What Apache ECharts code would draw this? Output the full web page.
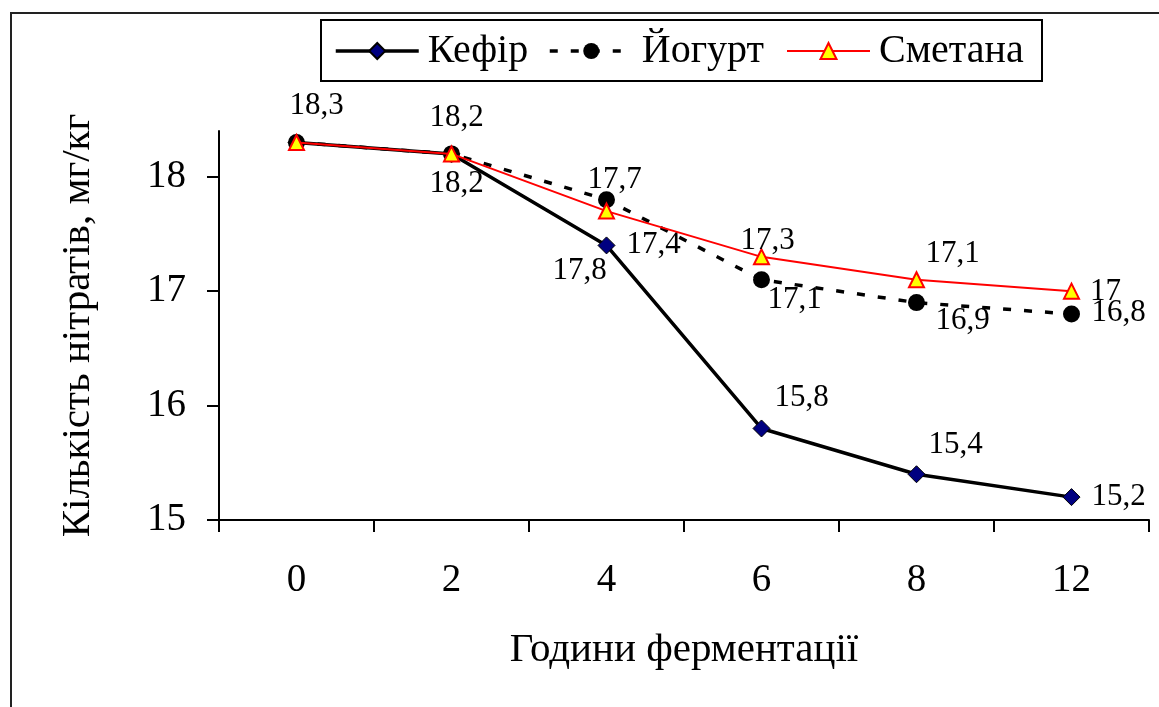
<!DOCTYPE html>
<html>
<head>
<meta charset="utf-8">
<script src="https://cdn.jsdelivr.net/npm/echarts@6/dist/echarts.min.js"></script>
<style>
  html, body { margin: 0; padding: 0; background: #fff; }
  #chart { width: 1159px; height: 707px; }
</style>
</head>
<body>
<div id="chart"></div>
<script>
// Fermentation time, hours
const hours = ['0', '2', '4', '6', '8', '12'];

// Nitrate content, mg/kg
const kefir   = [18.3, 18.2, 17.4, 15.8, 15.4, 15.2];
const yogurt  = [18.3, 18.2, 17.8, 17.1, 16.9, 16.8];
const smetana = [18.3, 18.2, 17.7, 17.3, 17.1, 17.0];

const yTicks = [15, 16, 17, 18];

// Label offsets from each marker centre (null = label hidden)
const kefirLabelOffsets   = [null, [5, 30], [47, -1], [40, -31], [39, -29], [47, 0]];
const yogurtLabelOffsets  = [null, null, [-27, 71], [33, 20], [46, 18], [47, -1]];
const smetanaLabelOffsets = [[20, -37], [5, -36], [8, -31], [6, -16], [36, -26], [34, 1]];

const FONT = "'Times New Roman', 'Liberation Serif', serif";
const fmt = v => String(v).replace('.', ',');

function withLabels(values, offsets) {
  return values.map((v, i) => ({
    value: v,
    label: offsets[i]
      ? { show: true, position: 'inside', offset: offsets[i] }
      : { show: false }
  }));
}

const labelStyle = {
  color: '#000',
  fontFamily: FONT,
  fontSize: 31,
  formatter: p => fmt(p.value)
};

const DASH = [8, 13];

const chart = echarts.init(document.getElementById('chart'), null, { renderer: 'canvas' });

const legendBase = {
  orient: 'horizontal',
  itemWidth: 83,
  itemHeight: 20,
  itemGap: 0,
  padding: 0,
  top: 31,
  textStyle: { fontFamily: FONT, fontSize: 40, color: '#000', lineHeight: 40, padding: [0, 0, 0, 4] }
};

chart.setOption({
  animation: false,
  backgroundColor: '#fff',
  graphic: [
    {
      type: 'rect',
      shape: { x: 11, y: 13, width: 1200, height: 800 },
      style: { fill: 'none', stroke: '#222', lineWidth: 2 },
      silent: true, z: -1
    },
    {
      type: 'rect',
      shape: { x: 321, y: 20, width: 721, height: 61 },
      style: { fill: 'none', stroke: '#000', lineWidth: 2 },
      silent: true
    }
  ],
  legend: [
    Object.assign({}, legendBase, {
      data: ['Кефір'], left: 334,
      lineStyle: { width: 3.5, color: '#000' }
    }),
    Object.assign({}, legendBase, {
      data: ['Йогурт'], left: 548,
      lineStyle: { width: 3.5, color: '#000', type: DASH }
    }),
    Object.assign({}, legendBase, {
      data: ['Сметана'], left: 786,
      lineStyle: { width: 2, color: '#ff0000' }
    })
  ],
  grid: { left: 219, right: 10, top: 131, bottom: 187, containLabel: false },
  xAxis: {
    type: 'category',
    data: hours,
    boundaryGap: true,
    name: 'Години ферментації',
    nameLocation: 'middle',
    nameGap: 110,
    nameTextStyle: { fontFamily: FONT, fontSize: 41, color: '#000', lineHeight: 40 },
    axisLine: { lineStyle: { color: '#000', width: 2 } },
    axisTick: { show: true, inside: false, length: 12, lineStyle: { color: '#000', width: 2 } },
    axisLabel: { fontFamily: FONT, fontSize: 39, color: '#000', margin: 41, lineHeight: 40 },
    splitLine: { show: false }
  },
  yAxis: {
    type: 'value',
    min: 15,
    max: 18.4,
    interval: 1,
    name: 'Кількість нітратів, мг/кг',
    nameLocation: 'middle',
    nameGap: 121,
    nameRotate: 90,
    nameTextStyle: { fontFamily: FONT, fontSize: 41, color: '#000', lineHeight: 40 },
    axisLine: { show: true, lineStyle: { color: '#000', width: 2 } },
    axisTick: { show: true, inside: false, length: 12, customValues: yTicks, lineStyle: { color: '#000', width: 2 } },
    axisLabel: { fontFamily: FONT, fontSize: 39, color: '#000', margin: 33, customValues: yTicks },
    splitLine: { show: false }
  },
  series: [
    {
      name: 'Кефір',
      type: 'line',
      data: withLabels(kefir, kefirLabelOffsets),
      symbol: 'diamond',
      symbolSize: 17,
      lineStyle: { color: '#000', width: 3.5 },
      itemStyle: { color: '#000080', borderColor: '#000', borderWidth: 1 },
      label: labelStyle,
      z: 2
    },
    {
      name: 'Йогурт',
      type: 'line',
      data: withLabels(yogurt, yogurtLabelOffsets),
      symbol: 'circle',
      symbolSize: 17,
      lineStyle: { color: '#000', width: 3.5, type: DASH },
      itemStyle: { color: '#000', borderColor: '#000', borderWidth: 0 },
      label: labelStyle,
      z: 3
    },
    {
      name: 'Сметана',
      type: 'line',
      data: withLabels(smetana, smetanaLabelOffsets),
      symbol: 'triangle',
      symbolSize: 15,
      lineStyle: { color: '#ff0000', width: 2 },
      itemStyle: { color: '#ffff00', borderColor: '#ff0000', borderWidth: 2 },
      label: labelStyle,
      z: 4
    }
  ]
});
</script>
</body>
</html>
